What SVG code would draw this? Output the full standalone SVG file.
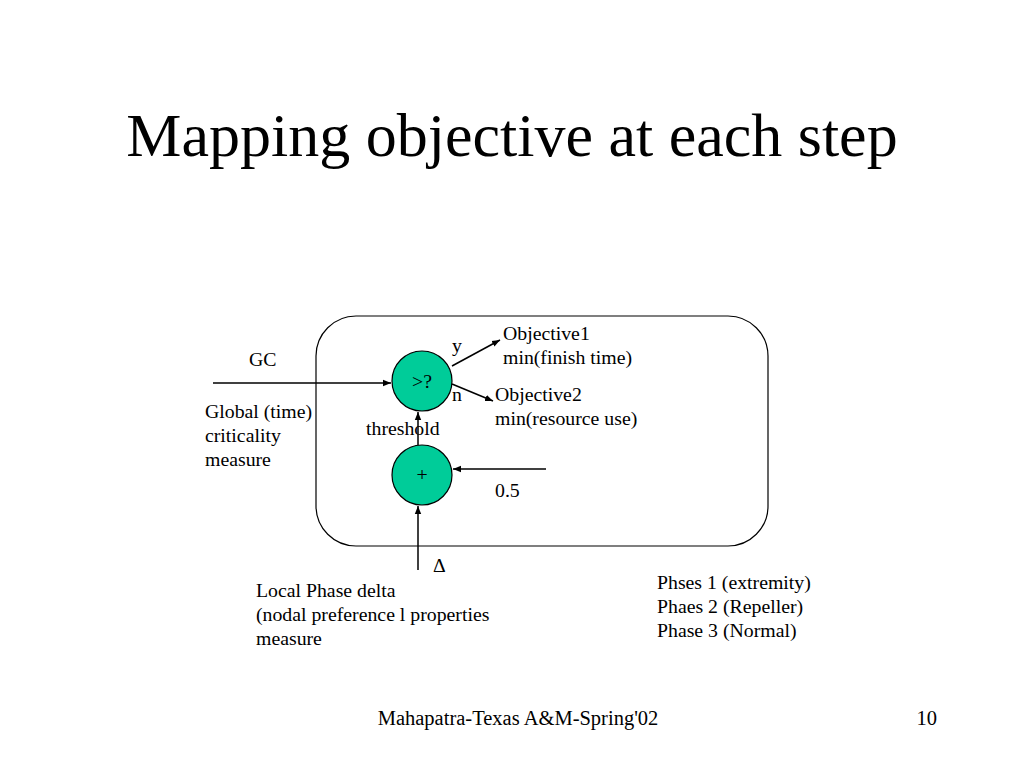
<svg xmlns="http://www.w3.org/2000/svg" width="1024" height="768" viewBox="0 0 1024 768">
<style>
text{font-family:"Liberation Serif","Times New Roman",serif;fill:#000;font-size:19.8px}
.title{font-size:62px}
.foot{font-size:20.5px}
.node{fill:#00CC99;stroke:#000;stroke-width:1.2}
.conn line{stroke:#000;stroke-width:1.5;marker-end:url(#ah)}
</style>
<defs>
<marker id="ah" viewBox="0 0 10 10" refX="10" refY="5" markerWidth="8" markerHeight="8" orient="auto" markerUnits="userSpaceOnUse">
<path d="M0,1 L10,5 L0,9 z" fill="#000"/>
</marker>
</defs>
<rect width="1024" height="768" fill="#fff"/>
<text class="title" x="512" y="156" text-anchor="middle">Mapping objective at each step</text>
<rect id="frame" x="316" y="316" width="452" height="230" rx="40" fill="none" stroke="#000" stroke-width="1.2"/>
<g id="compare"><circle class="node" cx="422" cy="381" r="30"/><text x="422" y="388" text-anchor="middle">&gt;?</text></g>
<g id="sum"><circle class="node" cx="422" cy="475" r="30"/><text x="422" y="481" text-anchor="middle">+</text></g>
<g class="conn" id="connectors">
<line x1="213" y1="383" x2="391" y2="383"/>
<line x1="418" y1="445" x2="418" y2="412"/>
<line x1="546" y1="469" x2="453" y2="469"/>
<line x1="418" y1="570" x2="418" y2="506"/>
<line x1="452" y1="366" x2="500" y2="340"/>
<line x1="452" y1="384" x2="493" y2="401"/>
</g>
<text x="452" y="352">y</text>
<text x="452" y="401">n</text>
<text x="503" y="340">Objective1</text>
<text x="503" y="364">min(finish time)</text>
<text x="495" y="401">Objective2</text>
<text x="495" y="425">min(resource use)</text>
<text x="249" y="366">GC</text>
<text x="205" y="418">Global (time)</text>
<text x="205" y="442">criticality</text>
<text x="205" y="466">measure</text>
<text x="366" y="435">threshold</text>
<text x="495" y="497">0.5</text>
<text x="433" y="572">Δ</text>
<text x="256" y="597">Local Phase delta</text>
<text x="256" y="621">(nodal preference l properties</text>
<text x="256" y="645">measure</text>
<text x="657" y="589">Phses 1 (extremity)</text>
<text x="657" y="613">Phaes 2 (Repeller)</text>
<text x="657" y="637">Phase 3 (Normal)</text>
<text class="foot" x="518" y="725" text-anchor="middle">Mahapatra-Texas A&amp;M-Spring'02</text>
<text class="foot" x="937" y="725" text-anchor="end">10</text>
</svg>
